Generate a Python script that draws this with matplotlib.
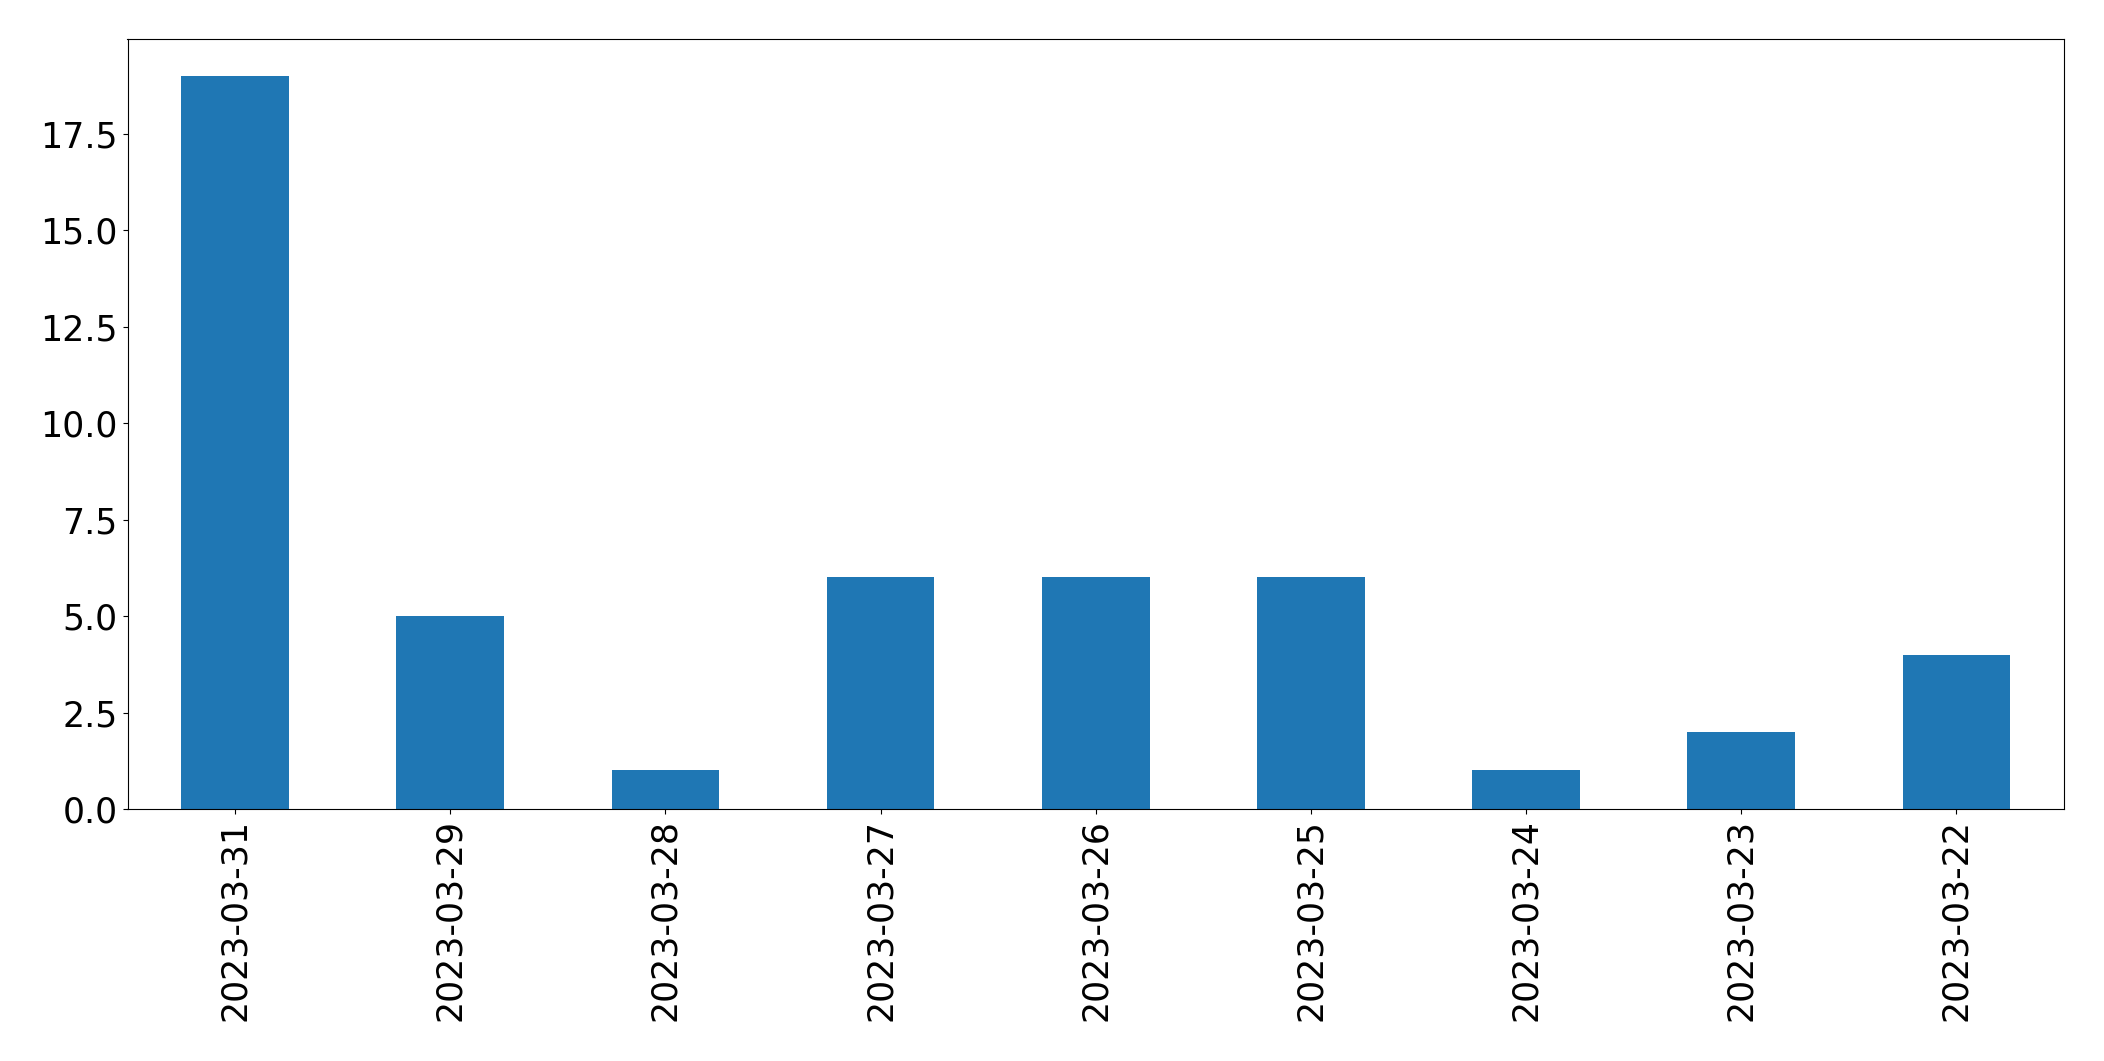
import matplotlib
matplotlib.use("Agg")
import matplotlib.pyplot as plt
import pandas as pd

dates = ["2023-03-31", "2023-03-29", "2023-03-28", "2023-03-27", "2023-03-26",
         "2023-03-25", "2023-03-24", "2023-03-23", "2023-03-22"]
counts = [19, 5, 1, 6, 6, 6, 1, 2, 4]

s = pd.Series(counts, index=dates)

fig = plt.figure(figsize=(21.04, 10.61), dpi=100)
ax = fig.add_axes([127.5 / 2104, 1 - 809 / 1061, (2064 - 127.5) / 2104, (809 - 39) / 1061])
s.plot(kind="bar", ax=ax, color="#1f77b4")
ax.tick_params(labelsize=25)
fig.savefig("out.png", dpi=100)
